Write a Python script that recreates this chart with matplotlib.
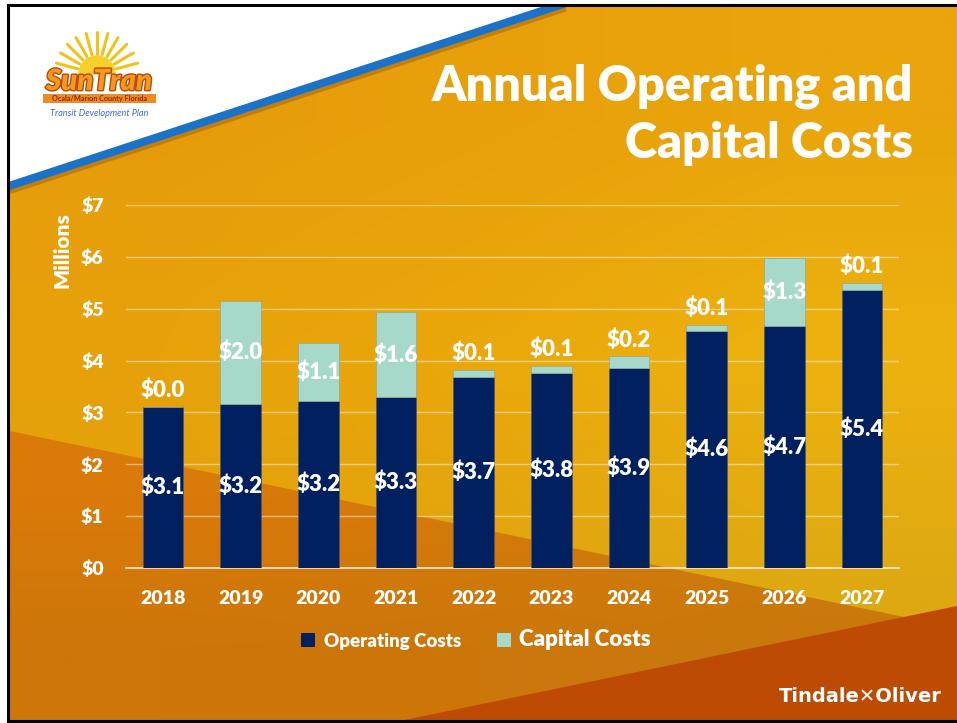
import numpy as np
import matplotlib
matplotlib.use("Agg")
from matplotlib import pyplot as plt
from matplotlib.patches import Polygon, Rectangle
from matplotlib.colors import to_rgb
import matplotlib.patheffects as pe

# chart values (millions of dollars)
years = ["2018", "2019", "2020", "2021", "2022", "2023", "2024", "2025", "2026", "2027"]
operating = [3.10, 3.17, 3.22, 3.29, 3.68, 3.76, 3.85, 4.57, 4.66, 5.36]
capital = [0.00, 1.98, 1.12, 1.64, 0.14, 0.13, 0.23, 0.11, 1.31, 0.13]
y_ticks = [0, 1, 2, 3, 4, 5, 6, 7]
series_names = ["Operating Costs", "Capital Costs"]

navy = "#002060"
teal = "#A6D9C9"
font = ["Lato", "DejaVu Sans"]
plt.rcParams["font.family"] = font

W, H = 957, 723
fig = plt.figure(figsize=(W / 100, H / 100), dpi=100)

# ---- slide background (pixel coordinates) ----
bg = fig.add_axes([0, 0, 1, 1], zorder=-5)
bg.set_xlim(0, W)
bg.set_ylim(H, 0)
bg.axis("off")

def grad(rows):
    return np.array([[to_rgb(c) for c in r] for r in rows])

gold = grad([["#E69C0A", "#E8A00A", "#E9A50B"],
             ["#E7A20A", "#EAA80B", "#EDB20F"],
             ["#E2A00C", "#E0A510", "#DDA812"]])
bg.imshow(gold, extent=(0, W, H, 0), interpolation="bilinear", aspect="auto", zorder=0)

low = Polygon([(0, 429), (W, 628), (W, H), (0, H)], closed=True, facecolor="none", edgecolor="none")
bg.add_patch(low)
orange = grad([["#DA7A09", "#D57A0A", "#CF7C0C"],
               ["#CD760A", "#CC770B", "#CA780C"]])
im = bg.imshow(orange, extent=(0, W, H, 420), interpolation="bilinear", aspect="auto", zorder=1)
im.set_clip_path(low)

bg.add_patch(Polygon([(390, H), (W, 606), (W, H)], closed=True, facecolor="#BD4B04", edgecolor="none", zorder=2))

# white corner + blue stripe
bg.add_patch(Polygon([(0, 0), (575, 0), (575, 1), (9, 187), (0, 187)], closed=True,
                     facecolor="white", edgecolor="none", zorder=3))
bg.plot([9, 566], [192, 9], color="#9A5A08", lw=3.5, alpha=0.45, zorder=3, solid_capstyle="butt")
bg.plot([9, 566], [186, 3], color="#1A73C8", lw=5.8, zorder=4, solid_capstyle="butt")

# white margin and black frame
bg.add_patch(Rectangle((0, 0), 7, H, facecolor="white", edgecolor="none", zorder=5))
bg.add_patch(Rectangle((0, 0), W, 4, facecolor="white", edgecolor="none", zorder=5))
bg.plot([8, 8], [5, 721], color="black", lw=2.2, zorder=6)
bg.plot([8, W], [5, 5], color="black", lw=2.2, zorder=6)
bg.plot([8, W], [721, 721], color="black", lw=2.2, zorder=6)

# SunTran logo (simplified)
sx, sy = 97, 74
for a in np.linspace(15, 165, 11):
    r = np.radians(a)
    bg.plot([sx + 20 * np.cos(r), sx + 42 * np.cos(r)], [sy - 20 * np.sin(r), sy - 42 * np.sin(r)],
            color="#F2C21A", lw=2.2, zorder=6, solid_capstyle="round")
t = np.linspace(0, np.pi, 50)
bg.fill(sx + 18 * np.cos(t), sy - 18 * np.sin(t), color="#F7CF2A", zorder=6)
bg.text(99, 82, "SunTran", fontsize=21, fontweight="heavy", style="italic", color="#F39A1E",
        ha="center", va="center", zorder=7,
        path_effects=[pe.withStroke(linewidth=2, foreground="#B8480C")])
bg.add_patch(Rectangle((43, 94), 113, 9, facecolor="#EE8A1E", edgecolor="none", zorder=7))
bg.text(99, 98.5, "Ocala/Marion County Florida", fontsize=5.2, fontweight="bold", color="#8A2A08",
        ha="center", va="center", zorder=8)
bg.text(99, 113, "Transit Development Plan", fontsize=6.6, style="italic", color="#3C6FC8",
        ha="center", va="center", zorder=8)

# title
bg.text(913, 86, "Annual Operating and", fontsize=35, fontweight="heavy", color="white",
        ha="right", va="center", zorder=8)
bg.text(913, 143, "Capital Costs", fontsize=35, fontweight="heavy", color="white",
        ha="right", va="center", zorder=8)

# footer logo
bg.text(860, 697, "Tindale\u2715Oliver", fontsize=14, fontweight="heavy", color="white",
        ha="center", va="center", zorder=8, family=["DejaVu Sans"])

# ---- chart ----
ax = fig.add_axes([126 / W, 1 - 568 / H, (899 - 126) / W, (568 - 205) / H])
ax.set_facecolor("none")
x = np.arange(len(years))
ax.bar(x, operating, width=0.52, color=navy, edgecolor="#4A5A70", linewidth=0.5, zorder=3)
ax.bar(x, capital, width=0.52, bottom=operating, color=teal, edgecolor="#8FA898", linewidth=0.5, zorder=3)

for i in range(len(years)):
    ax.text(x[i], operating[i] / 2, "$%.1f" % operating[i], ha="center", va="center",
            fontsize=16, fontweight="heavy", color="white", zorder=5)
    top = operating[i] + capital[i]
    if capital[i] >= 0.5:
        yl = operating[i] + capital[i] / 2
    else:
        yl = top + 0.32
    ax.text(x[i], yl, "$%.1f" % capital[i], ha="center", va="center",
            fontsize=16, fontweight="heavy", color="white", zorder=5)

ax.set_xlim(-0.476, len(years) - 1 + 0.476)
ax.set_ylim(0, 7)
ax.set_yticks(y_ticks)
ax.set_yticklabels(["$%d" % v for v in y_ticks])
ax.set_xticks(x)
ax.set_xticklabels(years)
ax.tick_params(axis="y", length=0, pad=16, labelsize=14, labelcolor="white")
ax.tick_params(axis="x", length=0, pad=16, labelsize=14, labelcolor="white")
for lab in ax.get_xticklabels() + ax.get_yticklabels():
    lab.set_fontweight("heavy")
ax.grid(axis="y", color="white", alpha=0.45, lw=1, zorder=0)
for s in ["top", "right", "left"]:
    ax.spines[s].set_visible(False)
ax.spines["bottom"].set_color("#F4E8D8")
ax.spines["bottom"].set_linewidth(1.2)

ax.text(-0.083, 0.875, "Millions", transform=ax.transAxes, rotation=90, ha="center", va="center",
        fontsize=15, fontweight="heavy", color="white")

# legend
handles = [Rectangle((0, 0), 1, 1, facecolor=navy, edgecolor="none"),
           Rectangle((0, 0), 1, 1, facecolor=teal, edgecolor="none")]
leg = fig.legend(handles=handles, labels=series_names,
                 loc="center", bbox_to_anchor=(476 / W, 1 - 640 / H), ncol=2, frameon=False,
                 handlelength=0.75, handleheight=0.75, handletextpad=0.45, columnspacing=1.9,
                 prop={"weight": "heavy", "size": 13.5})
for txt in leg.get_texts():
    txt.set_color("white")
leg.get_texts()[1].set_fontsize(16)

fig.savefig("out.png", dpi=100)
